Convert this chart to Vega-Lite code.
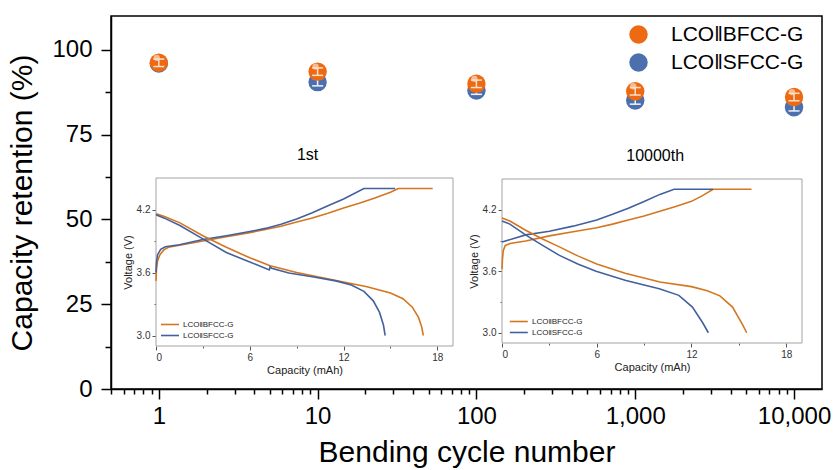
{
  "$schema": "https://vega.github.io/schema/vega-lite/v6.json",
  "width": 711,
  "height": 373,
  "autosize": "none",
  "padding": {"left": 111, "top": 16, "right": 15, "bottom": 81},
  "background": "white",
  "config": {
    "font": "Liberation Sans",
    "view": {"stroke": "black", "strokeWidth": 1.5},
    "axis": {"grid": false},
    "legend": {"padding": 0}
  },
  "datasets": {
    "retention": [
      {"cycle": 1, "retention": 96.0, "lo": 94.9, "hi": 97.1, "cell": "LCO‖SFCC-G"},
      {"cycle": 10, "retention": 90.5, "lo": 89.4, "hi": 91.6, "cell": "LCO‖SFCC-G"},
      {"cycle": 100, "retention": 88.0, "lo": 86.9, "hi": 89.1, "cell": "LCO‖SFCC-G"},
      {"cycle": 1000, "retention": 85.1, "lo": 84.0, "hi": 86.2, "cell": "LCO‖SFCC-G"},
      {"cycle": 10000, "retention": 83.1, "lo": 82.0, "hi": 84.2, "cell": "LCO‖SFCC-G"},
      {"cycle": 1, "retention": 96.2, "lo": 95.1, "hi": 97.3, "cell": "LCO‖BFCC-G"},
      {"cycle": 10, "retention": 93.6, "lo": 92.5, "hi": 94.7, "cell": "LCO‖BFCC-G"},
      {"cycle": 100, "retention": 90.0, "lo": 88.9, "hi": 91.1, "cell": "LCO‖BFCC-G"},
      {"cycle": 1000, "retention": 87.8, "lo": 86.7, "hi": 88.9, "cell": "LCO‖BFCC-G"},
      {"cycle": 10000, "retention": 86.1, "lo": 85.0, "hi": 87.2, "cell": "LCO‖BFCC-G"}
    ],
    "curves": [
      {"p": "1st", "s": "LCO‖BFCC-G", "b": "charge", "c": 0, "v": 3.52},
      {"p": "1st", "s": "LCO‖BFCC-G", "b": "charge", "c": 0.03, "v": 3.63},
      {"p": "1st", "s": "LCO‖BFCC-G", "b": "charge", "c": 0.1, "v": 3.71},
      {"p": "1st", "s": "LCO‖BFCC-G", "b": "charge", "c": 0.25, "v": 3.77},
      {"p": "1st", "s": "LCO‖BFCC-G", "b": "charge", "c": 0.5, "v": 3.815},
      {"p": "1st", "s": "LCO‖BFCC-G", "b": "charge", "c": 0.8, "v": 3.84},
      {"p": "1st", "s": "LCO‖BFCC-G", "b": "charge", "c": 1.5, "v": 3.86},
      {"p": "1st", "s": "LCO‖BFCC-G", "b": "charge", "c": 3, "v": 3.9},
      {"p": "1st", "s": "LCO‖BFCC-G", "b": "charge", "c": 4.5, "v": 3.94},
      {"p": "1st", "s": "LCO‖BFCC-G", "b": "charge", "c": 6, "v": 3.98},
      {"p": "1st", "s": "LCO‖BFCC-G", "b": "charge", "c": 7, "v": 4.01},
      {"p": "1st", "s": "LCO‖BFCC-G", "b": "charge", "c": 8, "v": 4.04},
      {"p": "1st", "s": "LCO‖BFCC-G", "b": "charge", "c": 9, "v": 4.08},
      {"p": "1st", "s": "LCO‖BFCC-G", "b": "charge", "c": 10, "v": 4.12},
      {"p": "1st", "s": "LCO‖BFCC-G", "b": "charge", "c": 11, "v": 4.165},
      {"p": "1st", "s": "LCO‖BFCC-G", "b": "charge", "c": 12, "v": 4.215},
      {"p": "1st", "s": "LCO‖BFCC-G", "b": "charge", "c": 13, "v": 4.26},
      {"p": "1st", "s": "LCO‖BFCC-G", "b": "charge", "c": 14, "v": 4.31},
      {"p": "1st", "s": "LCO‖BFCC-G", "b": "charge", "c": 15, "v": 4.365},
      {"p": "1st", "s": "LCO‖BFCC-G", "b": "charge", "c": 15.5, "v": 4.4},
      {"p": "1st", "s": "LCO‖BFCC-G", "b": "charge", "c": 17.7, "v": 4.4},
      {"p": "1st", "s": "LCO‖SFCC-G", "b": "charge", "c": 0, "v": 3.6},
      {"p": "1st", "s": "LCO‖SFCC-G", "b": "charge", "c": 0.03, "v": 3.7},
      {"p": "1st", "s": "LCO‖SFCC-G", "b": "charge", "c": 0.1, "v": 3.77},
      {"p": "1st", "s": "LCO‖SFCC-G", "b": "charge", "c": 0.3, "v": 3.82},
      {"p": "1st", "s": "LCO‖SFCC-G", "b": "charge", "c": 0.6, "v": 3.845},
      {"p": "1st", "s": "LCO‖SFCC-G", "b": "charge", "c": 1.5, "v": 3.865},
      {"p": "1st", "s": "LCO‖SFCC-G", "b": "charge", "c": 3, "v": 3.915},
      {"p": "1st", "s": "LCO‖SFCC-G", "b": "charge", "c": 4.5, "v": 3.95},
      {"p": "1st", "s": "LCO‖SFCC-G", "b": "charge", "c": 6, "v": 3.99},
      {"p": "1st", "s": "LCO‖SFCC-G", "b": "charge", "c": 7, "v": 4.02},
      {"p": "1st", "s": "LCO‖SFCC-G", "b": "charge", "c": 8, "v": 4.06},
      {"p": "1st", "s": "LCO‖SFCC-G", "b": "charge", "c": 9, "v": 4.11},
      {"p": "1st", "s": "LCO‖SFCC-G", "b": "charge", "c": 10, "v": 4.17},
      {"p": "1st", "s": "LCO‖SFCC-G", "b": "charge", "c": 11, "v": 4.235},
      {"p": "1st", "s": "LCO‖SFCC-G", "b": "charge", "c": 12, "v": 4.3},
      {"p": "1st", "s": "LCO‖SFCC-G", "b": "charge", "c": 13.3, "v": 4.4},
      {"p": "1st", "s": "LCO‖SFCC-G", "b": "charge", "c": 15.3, "v": 4.4},
      {"p": "1st", "s": "LCO‖BFCC-G", "b": "discharge", "c": 0, "v": 4.16},
      {"p": "1st", "s": "LCO‖BFCC-G", "b": "discharge", "c": 0.5, "v": 4.135},
      {"p": "1st", "s": "LCO‖BFCC-G", "b": "discharge", "c": 1.5, "v": 4.075},
      {"p": "1st", "s": "LCO‖BFCC-G", "b": "discharge", "c": 3, "v": 3.95},
      {"p": "1st", "s": "LCO‖BFCC-G", "b": "discharge", "c": 4.5, "v": 3.84},
      {"p": "1st", "s": "LCO‖BFCC-G", "b": "discharge", "c": 6, "v": 3.74},
      {"p": "1st", "s": "LCO‖BFCC-G", "b": "discharge", "c": 7.3, "v": 3.665},
      {"p": "1st", "s": "LCO‖BFCC-G", "b": "discharge", "c": 9, "v": 3.6},
      {"p": "1st", "s": "LCO‖BFCC-G", "b": "discharge", "c": 10.5, "v": 3.555},
      {"p": "1st", "s": "LCO‖BFCC-G", "b": "discharge", "c": 12, "v": 3.51},
      {"p": "1st", "s": "LCO‖BFCC-G", "b": "discharge", "c": 13.5, "v": 3.465},
      {"p": "1st", "s": "LCO‖BFCC-G", "b": "discharge", "c": 15, "v": 3.405},
      {"p": "1st", "s": "LCO‖BFCC-G", "b": "discharge", "c": 15.8, "v": 3.35},
      {"p": "1st", "s": "LCO‖BFCC-G", "b": "discharge", "c": 16.4, "v": 3.27},
      {"p": "1st", "s": "LCO‖BFCC-G", "b": "discharge", "c": 16.8, "v": 3.17},
      {"p": "1st", "s": "LCO‖BFCC-G", "b": "discharge", "c": 17, "v": 3.08},
      {"p": "1st", "s": "LCO‖BFCC-G", "b": "discharge", "c": 17.1, "v": 3.0},
      {"p": "1st", "s": "LCO‖SFCC-G", "b": "discharge", "c": 0, "v": 4.15},
      {"p": "1st", "s": "LCO‖SFCC-G", "b": "discharge", "c": 0.5, "v": 4.12},
      {"p": "1st", "s": "LCO‖SFCC-G", "b": "discharge", "c": 1.5, "v": 4.05},
      {"p": "1st", "s": "LCO‖SFCC-G", "b": "discharge", "c": 3, "v": 3.92},
      {"p": "1st", "s": "LCO‖SFCC-G", "b": "discharge", "c": 4.5, "v": 3.79},
      {"p": "1st", "s": "LCO‖SFCC-G", "b": "discharge", "c": 6, "v": 3.7},
      {"p": "1st", "s": "LCO‖SFCC-G", "b": "discharge", "c": 7.25, "v": 3.625},
      {"p": "1st", "s": "LCO‖SFCC-G", "b": "discharge", "c": 7.3, "v": 3.655},
      {"p": "1st", "s": "LCO‖SFCC-G", "b": "discharge", "c": 7.4, "v": 3.64},
      {"p": "1st", "s": "LCO‖SFCC-G", "b": "discharge", "c": 8.5, "v": 3.595},
      {"p": "1st", "s": "LCO‖SFCC-G", "b": "discharge", "c": 10, "v": 3.56},
      {"p": "1st", "s": "LCO‖SFCC-G", "b": "discharge", "c": 11.5, "v": 3.52},
      {"p": "1st", "s": "LCO‖SFCC-G", "b": "discharge", "c": 12.5, "v": 3.48},
      {"p": "1st", "s": "LCO‖SFCC-G", "b": "discharge", "c": 13.3, "v": 3.42},
      {"p": "1st", "s": "LCO‖SFCC-G", "b": "discharge", "c": 13.9, "v": 3.33},
      {"p": "1st", "s": "LCO‖SFCC-G", "b": "discharge", "c": 14.3, "v": 3.22},
      {"p": "1st", "s": "LCO‖SFCC-G", "b": "discharge", "c": 14.55, "v": 3.1},
      {"p": "1st", "s": "LCO‖SFCC-G", "b": "discharge", "c": 14.66, "v": 3.0},
      {"p": "10000th", "s": "LCO‖BFCC-G", "b": "charge", "c": 0, "v": 3.62},
      {"p": "10000th", "s": "LCO‖BFCC-G", "b": "charge", "c": 0.03, "v": 3.72},
      {"p": "10000th", "s": "LCO‖BFCC-G", "b": "charge", "c": 0.08, "v": 3.8},
      {"p": "10000th", "s": "LCO‖BFCC-G", "b": "charge", "c": 0.2, "v": 3.85},
      {"p": "10000th", "s": "LCO‖BFCC-G", "b": "charge", "c": 0.5, "v": 3.87},
      {"p": "10000th", "s": "LCO‖BFCC-G", "b": "charge", "c": 1.5, "v": 3.895},
      {"p": "10000th", "s": "LCO‖BFCC-G", "b": "charge", "c": 3, "v": 3.945},
      {"p": "10000th", "s": "LCO‖BFCC-G", "b": "charge", "c": 4.5, "v": 3.985},
      {"p": "10000th", "s": "LCO‖BFCC-G", "b": "charge", "c": 6, "v": 4.025},
      {"p": "10000th", "s": "LCO‖BFCC-G", "b": "charge", "c": 7, "v": 4.06},
      {"p": "10000th", "s": "LCO‖BFCC-G", "b": "charge", "c": 8, "v": 4.1},
      {"p": "10000th", "s": "LCO‖BFCC-G", "b": "charge", "c": 9, "v": 4.14},
      {"p": "10000th", "s": "LCO‖BFCC-G", "b": "charge", "c": 10, "v": 4.185},
      {"p": "10000th", "s": "LCO‖BFCC-G", "b": "charge", "c": 11, "v": 4.232},
      {"p": "10000th", "s": "LCO‖BFCC-G", "b": "charge", "c": 12, "v": 4.282},
      {"p": "10000th", "s": "LCO‖BFCC-G", "b": "charge", "c": 12.7, "v": 4.338},
      {"p": "10000th", "s": "LCO‖BFCC-G", "b": "charge", "c": 13.37, "v": 4.4},
      {"p": "10000th", "s": "LCO‖BFCC-G", "b": "charge", "c": 15.8, "v": 4.4},
      {"p": "10000th", "s": "LCO‖SFCC-G", "b": "charge", "c": 0, "v": 3.885},
      {"p": "10000th", "s": "LCO‖SFCC-G", "b": "charge", "c": 1.5, "v": 3.955},
      {"p": "10000th", "s": "LCO‖SFCC-G", "b": "charge", "c": 3, "v": 3.99},
      {"p": "10000th", "s": "LCO‖SFCC-G", "b": "charge", "c": 4.5, "v": 4.04},
      {"p": "10000th", "s": "LCO‖SFCC-G", "b": "charge", "c": 6, "v": 4.1},
      {"p": "10000th", "s": "LCO‖SFCC-G", "b": "charge", "c": 7, "v": 4.155},
      {"p": "10000th", "s": "LCO‖SFCC-G", "b": "charge", "c": 8, "v": 4.215},
      {"p": "10000th", "s": "LCO‖SFCC-G", "b": "charge", "c": 9, "v": 4.28},
      {"p": "10000th", "s": "LCO‖SFCC-G", "b": "charge", "c": 10, "v": 4.35},
      {"p": "10000th", "s": "LCO‖SFCC-G", "b": "charge", "c": 10.9, "v": 4.4},
      {"p": "10000th", "s": "LCO‖SFCC-G", "b": "charge", "c": 13.37, "v": 4.4},
      {"p": "10000th", "s": "LCO‖BFCC-G", "b": "discharge", "c": 0, "v": 4.12},
      {"p": "10000th", "s": "LCO‖BFCC-G", "b": "discharge", "c": 0.5, "v": 4.09},
      {"p": "10000th", "s": "LCO‖BFCC-G", "b": "discharge", "c": 1.5, "v": 4.0},
      {"p": "10000th", "s": "LCO‖BFCC-G", "b": "discharge", "c": 2.5, "v": 3.92},
      {"p": "10000th", "s": "LCO‖BFCC-G", "b": "discharge", "c": 3.6, "v": 3.84},
      {"p": "10000th", "s": "LCO‖BFCC-G", "b": "discharge", "c": 4.8, "v": 3.75},
      {"p": "10000th", "s": "LCO‖BFCC-G", "b": "discharge", "c": 6, "v": 3.67},
      {"p": "10000th", "s": "LCO‖BFCC-G", "b": "discharge", "c": 7.8, "v": 3.58},
      {"p": "10000th", "s": "LCO‖BFCC-G", "b": "discharge", "c": 10, "v": 3.495},
      {"p": "10000th", "s": "LCO‖BFCC-G", "b": "discharge", "c": 12, "v": 3.45},
      {"p": "10000th", "s": "LCO‖BFCC-G", "b": "discharge", "c": 13, "v": 3.41},
      {"p": "10000th", "s": "LCO‖BFCC-G", "b": "discharge", "c": 13.8, "v": 3.36},
      {"p": "10000th", "s": "LCO‖BFCC-G", "b": "discharge", "c": 14.6, "v": 3.25},
      {"p": "10000th", "s": "LCO‖BFCC-G", "b": "discharge", "c": 15.2, "v": 3.09},
      {"p": "10000th", "s": "LCO‖BFCC-G", "b": "discharge", "c": 15.5, "v": 3.0},
      {"p": "10000th", "s": "LCO‖SFCC-G", "b": "discharge", "c": 0, "v": 4.09},
      {"p": "10000th", "s": "LCO‖SFCC-G", "b": "discharge", "c": 0.5, "v": 4.06},
      {"p": "10000th", "s": "LCO‖SFCC-G", "b": "discharge", "c": 1.54, "v": 3.95},
      {"p": "10000th", "s": "LCO‖SFCC-G", "b": "discharge", "c": 2.6, "v": 3.85},
      {"p": "10000th", "s": "LCO‖SFCC-G", "b": "discharge", "c": 3.64, "v": 3.755},
      {"p": "10000th", "s": "LCO‖SFCC-G", "b": "discharge", "c": 4.8, "v": 3.67},
      {"p": "10000th", "s": "LCO‖SFCC-G", "b": "discharge", "c": 5.96, "v": 3.6},
      {"p": "10000th", "s": "LCO‖SFCC-G", "b": "discharge", "c": 7.85, "v": 3.51},
      {"p": "10000th", "s": "LCO‖SFCC-G", "b": "discharge", "c": 9.96, "v": 3.43},
      {"p": "10000th", "s": "LCO‖SFCC-G", "b": "discharge", "c": 11.2, "v": 3.365},
      {"p": "10000th", "s": "LCO‖SFCC-G", "b": "discharge", "c": 12.06, "v": 3.25},
      {"p": "10000th", "s": "LCO‖SFCC-G", "b": "discharge", "c": 12.7, "v": 3.1},
      {"p": "10000th", "s": "LCO‖SFCC-G", "b": "discharge", "c": 13.07, "v": 3.0}
    ]
  },
  "layer": [
    {
      "data": {"name": "retention"},
      "layer": [
        {
          "transform": [{"filter": "datum.cell == 'LCO‖SFCC-G'"}],
          "mark": {"type": "circle", "size": 340, "opacity": 1},
          "encoding": {
            "x": {
              "field": "cycle", "type": "quantitative",
              "scale": {"type": "log", "domain": [0.5, 15000], "nice": false},
              "axis": {
                "orient": "bottom",
                "values": [0.5,0.6,0.7,0.8,0.9,1,2,3,4,5,6,7,8,9,10,20,30,40,50,60,70,80,90,100,200,300,400,500,600,700,800,900,1000,2000,3000,4000,5000,6000,7000,8000,9000,10000],
                "labelExpr": "indexof([1,10,100,1000,10000], datum.value) >= 0 ? format(datum.value, ',') : ''",
                "tickSize": {"condition": {"test": "indexof([1,10,100,1000,10000], datum.value) >= 0", "value": 10}, "value": 5},
                "tickColor": "black", "tickWidth": 1.5,
                "domainColor": "black", "domainWidth": 1.5,
                "labelFontSize": 24, "labelColor": "black", "labelPadding": 5,
                "title": "Bending cycle number", "titleFontSize": 30, "titleFontWeight": "normal", "titleColor": "black", "titlePadding": 9
              }
            },
            "y": {
              "field": "retention", "type": "quantitative",
              "scale": {"domain": [0, 110], "nice": false},
              "axis": {
                "orient": "left",
                "values": [0,12.5,25,37.5,50,62.5,75,87.5,100],
                "labelExpr": "datum.value % 25 == 0 ? datum.label : ''",
                "tickSize": {"condition": {"test": "datum.value % 25 == 0", "value": 10}, "value": 6},
                "tickColor": "black", "tickWidth": 1.5,
                "domainColor": "black", "domainWidth": 1.5,
                "labelFontSize": 24, "labelColor": "black", "labelPadding": 9,
                "title": "Capacity retention (%)", "titleFontSize": 30, "titleFontWeight": "normal", "titleColor": "black", "titlePadding": 14
              }
            },
            "color": {
              "field": "cell", "type": "nominal",
              "scale": {"domain": ["LCO‖BFCC-G", "LCO‖SFCC-G"], "range": ["#EE6A12", "#4C70AE"]},
              "legend": {
                "orient": "none", "legendX": 517, "legendY": 8, "title": null,
                "symbolSize": 340, "symbolOpacity": 1, "symbolStrokeWidth": 0,
                "labelFontSize": 21, "labelColor": "black", "labelOffset": 22, "rowPadding": 6
              }
            }
          }
        },
        {
          "transform": [{"filter": "datum.cell == 'LCO‖SFCC-G'"}],
          "mark": {"type": "circle", "size": 40, "opacity": 0.55, "color": "white", "xOffset": -2, "yOffset": -5},
          "encoding": {
            "x": {"field": "cycle", "type": "quantitative"},
            "y": {"field": "retention", "type": "quantitative"}
          }
        },
        {
          "transform": [{"filter": "datum.cell == 'LCO‖SFCC-G'"}],
          "mark": {"type": "rule", "color": "#f3f3f3", "strokeWidth": 1.5},
          "encoding": {
            "x": {"field": "cycle", "type": "quantitative"},
            "y": {"field": "lo", "type": "quantitative"},
            "y2": {"field": "hi"}
          }
        },
        {
          "transform": [{"filter": "datum.cell == 'LCO‖SFCC-G'"}],
          "mark": {"type": "tick", "orient": "horizontal", "color": "#f3f3f3", "size": 11, "thickness": 1.5, "opacity": 1},
          "encoding": {
            "x": {"field": "cycle", "type": "quantitative"},
            "y": {"field": "lo", "type": "quantitative"}
          }
        },
        {
          "transform": [{"filter": "datum.cell == 'LCO‖SFCC-G'"}],
          "mark": {"type": "tick", "orient": "horizontal", "color": "#f3f3f3", "size": 11, "thickness": 1.5, "opacity": 1},
          "encoding": {
            "x": {"field": "cycle", "type": "quantitative"},
            "y": {"field": "hi", "type": "quantitative"}
          }
        },
        {
          "transform": [{"filter": "datum.cell == 'LCO‖BFCC-G'"}],
          "mark": {"type": "circle", "size": 340, "opacity": 1},
          "encoding": {
            "x": {"field": "cycle", "type": "quantitative"},
            "y": {"field": "retention", "type": "quantitative"},
            "color": {"field": "cell", "type": "nominal"}
          }
        },
        {
          "transform": [{"filter": "datum.cell == 'LCO‖BFCC-G'"}],
          "mark": {"type": "circle", "size": 40, "opacity": 0.55, "color": "white", "xOffset": -2, "yOffset": -5},
          "encoding": {
            "x": {"field": "cycle", "type": "quantitative"},
            "y": {"field": "retention", "type": "quantitative"}
          }
        },
        {
          "transform": [{"filter": "datum.cell == 'LCO‖BFCC-G'"}],
          "mark": {"type": "rule", "color": "#f8e0cc", "strokeWidth": 1.5},
          "encoding": {
            "x": {"field": "cycle", "type": "quantitative"},
            "y": {"field": "lo", "type": "quantitative"},
            "y2": {"field": "hi"}
          }
        },
        {
          "transform": [{"filter": "datum.cell == 'LCO‖BFCC-G'"}],
          "mark": {"type": "tick", "orient": "horizontal", "color": "#f8e0cc", "size": 11, "thickness": 1.5, "opacity": 1},
          "encoding": {
            "x": {"field": "cycle", "type": "quantitative"},
            "y": {"field": "lo", "type": "quantitative"}
          }
        },
        {
          "transform": [{"filter": "datum.cell == 'LCO‖BFCC-G'"}],
          "mark": {"type": "tick", "orient": "horizontal", "color": "#f8e0cc", "size": 11, "thickness": 1.5, "opacity": 1},
          "encoding": {
            "x": {"field": "cycle", "type": "quantitative"},
            "y": {"field": "hi", "type": "quantitative"}
          }
        }
      ]
    },
    {
      "layer": [
        {
          "data": {"values": [{}]},
          "mark": {"type": "rect", "fill": "white", "stroke": "#a3a3a3", "strokeWidth": 1},
          "encoding": {
            "x": {"datum": 0, "type": "quantitative"},
            "x2": {"datum": 19},
            "y": {"datum": 2.9, "type": "quantitative"},
            "y2": {"datum": 4.5}
          }
        },
        {
          "data": {"name": "curves"},
          "transform": [{"filter": "datum.p == '1st'"}],
          "mark": {"type": "line", "strokeWidth": 1.6},
          "encoding": {
            "x": {
              "field": "c", "type": "quantitative",
              "scale": {"domain": [0, 19], "range": [45, 342], "nice": false, "zero": false},
              "axis": {
                "orient": "bottom", "offset": -43, "domain": false,
                "values": [0,3,6,9,12,15,18],
                "labelExpr": "datum.value % 6 == 0 ? datum.label : ''",
                "tickSize": {"condition": {"test": "datum.value % 6 == 0", "value": 4}, "value": 2},
                "tickColor": "#555", "labelFontSize": 10, "labelColor": "#333", "labelPadding": 2,
                "title": "Capacity (mAh)", "titleFontSize": 11, "titleFontWeight": "normal", "titleColor": "#222", "titlePadding": 2
              }
            },
            "y": {
              "field": "v", "type": "quantitative",
              "scale": {"domain": [2.9, 4.5], "range": [330, 162], "nice": false, "zero": false},
              "axis": {
                "orient": "left", "offset": -45, "domain": false,
                "values": [3, 3.3, 3.6, 3.9, 4.2], "format": ".1f",
                "labelExpr": "indexof([3, 3.6, 4.2], datum.value) >= 0 ? datum.label : ''",
                "tickSize": {"condition": {"test": "indexof([3, 3.6, 4.2], datum.value) >= 0", "value": 4}, "value": 2},
                "tickColor": "#555", "labelFontSize": 10, "labelColor": "#333", "labelPadding": 2,
                "title": "Voltage (V)", "titleFontSize": 11, "titleFontWeight": "normal", "titleColor": "#222", "titlePadding": 3
              }
            },
            "color": {
              "field": "s", "type": "nominal",
              "scale": {"domain": ["LCO‖BFCC-G", "LCO‖SFCC-G"], "range": ["#D4761F", "#43609E"]},
              "legend": {
                "orient": "none", "legendX": 53.5, "legendY": 303, "title": null,
                "symbolType": "M-2,0H2", "symbolSize": 81, "symbolStrokeWidth": 1.6,
                "labelFontSize": 8, "labelColor": "#222", "labelOffset": 7.5, "rowPadding": 1
              }
            },
            "detail": {"field": "b"}
          }
        },
        {
          "data": {"values": [{"t": "1st"}]},
          "mark": {"type": "text", "fontSize": 16, "color": "black"},
          "encoding": {
            "x": {"datum": 9.7, "type": "quantitative"},
            "y": {"datum": 4.72, "type": "quantitative"},
            "text": {"field": "t"}
          }
        }
      ]
    },
    {
      "layer": [
        {
          "data": {"values": [{}]},
          "mark": {"type": "rect", "fill": "white", "stroke": "#a3a3a3", "strokeWidth": 1},
          "encoding": {
            "x": {"datum": 0, "type": "quantitative"},
            "x2": {"datum": 19},
            "y": {"datum": 2.9, "type": "quantitative"},
            "y2": {"datum": 4.5}
          }
        },
        {
          "data": {"name": "curves"},
          "transform": [{"filter": "datum.p == '10000th'"}],
          "mark": {"type": "line", "strokeWidth": 1.6},
          "encoding": {
            "x": {
              "field": "c", "type": "quantitative",
              "scale": {"domain": [0, 19], "range": [391, 691], "nice": false, "zero": false},
              "axis": {
                "orient": "bottom", "offset": -46, "domain": false,
                "values": [0,3,6,9,12,15,18],
                "labelExpr": "datum.value % 6 == 0 ? datum.label : ''",
                "tickSize": {"condition": {"test": "datum.value % 6 == 0", "value": 4}, "value": 2},
                "tickColor": "#555", "labelFontSize": 10, "labelColor": "#333", "labelPadding": 2,
                "title": "Capacity (mAh)", "titleFontSize": 11, "titleFontWeight": "normal", "titleColor": "#222", "titlePadding": 2
              }
            },
            "y": {
              "field": "v", "type": "quantitative",
              "scale": {"domain": [2.9, 4.5], "range": [327, 163], "nice": false, "zero": false},
              "axis": {
                "orient": "left", "offset": -391, "domain": false,
                "values": [3, 3.3, 3.6, 3.9, 4.2], "format": ".1f",
                "labelExpr": "indexof([3, 3.6, 4.2], datum.value) >= 0 ? datum.label : ''",
                "tickSize": {"condition": {"test": "indexof([3, 3.6, 4.2], datum.value) >= 0", "value": 4}, "value": 2},
                "tickColor": "#555", "labelFontSize": 10, "labelColor": "#333", "labelPadding": 2,
                "title": "Voltage (V)", "titleFontSize": 11, "titleFontWeight": "normal", "titleColor": "#222", "titlePadding": 3
              }
            },
            "color": {
              "field": "s", "type": "nominal",
              "scale": {"domain": ["LCO‖BFCC-G", "LCO‖SFCC-G"], "range": ["#D4761F", "#43609E"]},
              "legend": {
                "orient": "none", "legendX": 402.3, "legendY": 300, "title": null,
                "symbolType": "M-2,0H2", "symbolSize": 81, "symbolStrokeWidth": 1.6,
                "labelFontSize": 8, "labelColor": "#222", "labelOffset": 7.7, "rowPadding": 1
              }
            },
            "detail": {"field": "b"}
          }
        },
        {
          "data": {"values": [{"t": "10000th"}]},
          "mark": {"type": "text", "fontSize": 16, "color": "black"},
          "encoding": {
            "x": {"datum": 9.7, "type": "quantitative"},
            "y": {"datum": 4.72, "type": "quantitative"},
            "text": {"field": "t"}
          }
        }
      ]
    }
  ],
  "resolve": {
    "scale": {"x": "independent", "y": "independent", "color": "independent"},
    "axis": {"x": "independent", "y": "independent"},
    "legend": {"color": "independent"}
  }
}
